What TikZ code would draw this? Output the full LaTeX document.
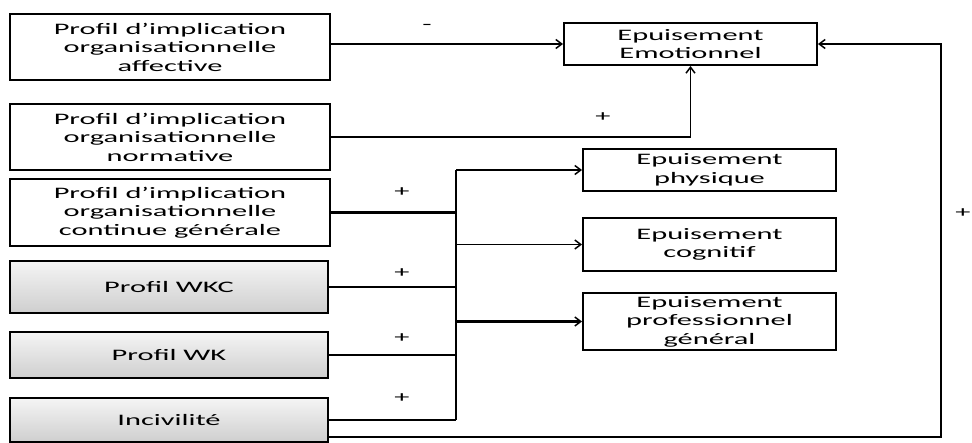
\documentclass[tikz,border=0pt]{standalone}
\usepackage{fontspec}
\setmainfont{Carlito}[FakeStretch=1.9]
\usetikzlibrary{arrows.meta}
\begin{document}
\begin{tikzpicture}[x=1pt,y=-1pt,
  every node/.style={font=\fontsize{16}{18.5}\selectfont, align=center, inner sep=0pt},
  box/.style={draw=black, line width=1.9pt, fill=white},
  greybox/.style={box, top color=gray!8, bottom color=gray!38},
  conn/.style={line width=1.6pt},
  thick conn/.style={line width=2.5pt},
  arr/.style={conn, -{Straight Barb[length=6pt,width=9pt,line width=1.5pt]}},
  sign/.style={font=\fontsize{16}{18}\selectfont}
]
\useasboundingbox (0,0) rectangle (972,443);
% left boxes
\node[box, minimum width=320pt, minimum height=66pt] (b1) at (170,47) {Profil d’implication\\organisationnelle\\affective};
\node[box, minimum width=320pt, minimum height=66pt] (b2) at (170,137) {Profil d’implication\\organisationnelle\\normative};
\node[box, minimum width=320pt, minimum height=67pt] (b3) at (170,212.5) {Profil d’implication\\organisationnelle\\continue générale};
\node[greybox, minimum width=318pt, minimum height=52pt] (b4) at (169,287) {Profil WKC};
\node[greybox, minimum width=318pt, minimum height=46pt] (b5) at (169,355) {Profil WK};
\node[greybox, minimum width=318pt, minimum height=44pt] (b6) at (169,420) {Incivilité};
% right boxes
\node[box, minimum width=253pt, minimum height=42pt] (e) at (690.5,44) {Epuisement\\Emotionnel};
\node[box, minimum width=253pt, minimum height=42pt] (p) at (709.5,170) {Epuisement\\physique};
\node[box, minimum width=253pt, minimum height=53pt] (c) at (709.5,244.5) {Epuisement\\cognitif};
\node[box, minimum width=253pt, minimum height=57pt] (g) at (709.5,321.5) {Epuisement\\professionnel\\général};
% helper coordinates
\coordinate (bus) at (456,0);
\coordinate (fb) at (941,437);
% connectors to Emotionnel
\draw[arr] (b1.east |- e.west) -- (e.west);
\draw[arr] (b2.east) -- (e.south |- b2.east) -- (e.south);
% bus
\draw[thick conn] (bus |- p.west) -- (bus |- b6.east);
\draw[thick conn] (b3.east) -- (bus |- b3.east);
\draw[conn] (b4.east) -- (bus |- b4.east);
\draw[conn] (b5.east) -- (bus |- b5.east);
\draw[conn] (b6.east) -- (bus |- b6.east);
\draw[arr] (bus |- p.west) -- (p.west);
\draw[arr] (bus |- c.west) -- (c.west);
\draw[arr, line width=2.4pt] (bus |- g.west) -- (g.west);
% feedback
\draw[arr] (b6.east |- fb) -- (fb) -- (fb |- e.east) -- (e.east);
% signs
\node[sign] (s1) at (427,27) {-};
\node[sign] (s2) at (603,117) {+};
\node[sign] (s3) at (402,192) {+};
\node[sign] (s4) at (402,273) {+};
\node[sign] (s5) at (402,338) {+};
\node[sign] (s6) at (402,398) {+};
\node[sign] (s7) at (963,213) {+};
\end{tikzpicture}
\end{document}
